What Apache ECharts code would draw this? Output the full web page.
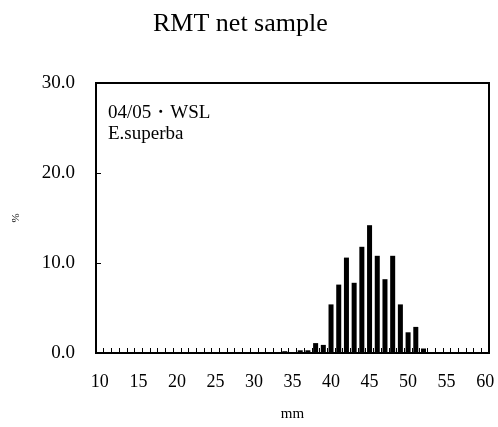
<!DOCTYPE html>
<html>
<head>
<meta charset="utf-8">
<script src="https://cdn.jsdelivr.net/npm/echarts@6/dist/echarts.min.js"></script>
<style>
  html, body { margin: 0; padding: 0; background: #fff; }
  #chart { width: 498px; height: 427px; }
</style>
</head>
<body>
<div id="chart"></div>
<script>
// length classes, mm
const lengths = []
for (let mm = 10; mm <= 60; mm++) lengths.push(String(mm))

// percent per length class (10..60 mm)
const percent = [
  0, 0, 0, 0, 0, 0, 0, 0, 0, 0,      // 10-19
  0, 0, 0, 0, 0, 0, 0, 0, 0, 0,      // 20-29
  0, 0, 0, 0, 0.2, 0, 0.3, 0.3, 1.1, 0.9, // 30-39
  5.4, 7.6, 10.6, 7.8, 11.8, 14.2, 10.8, 8.2, 10.8, 5.4, // 40-49
  2.3, 2.9, 0.5, 0, 0, 0, 0, 0, 0, 0, // 50-59
  0                                   // 60
]

const yTicks = [0, 10, 20, 30]

const serif = '"Liberation Serif", "DejaVu Serif", serif'

const chart = echarts.init(document.getElementById('chart'))

chart.setOption({
  animation: false,
  title: {
    text: 'RMT net sample',
    left: 148,
    top: 6,
    textStyle: {fontFamily: serif, fontSize: 26, fontWeight: 'normal', color: '#000'}
  },
  grid: {left: 96, right: 9, top: 83, bottom: 72, show: true, borderColor: '#000', borderWidth: 2},
  graphic: [
    {type: 'text', x: 108, y: 113, style: {text: '04/05・WSL', font: '19px ' + serif, fill: '#000', verticalAlign: 'middle'}},
    {type: 'text', x: 108, y: 134, style: {text: 'E.superba', font: '19px ' + serif, fill: '#000', verticalAlign: 'middle'}}
  ],
  xAxis: {
    type: 'category',
    data: lengths,
    name: 'mm',
    nameLocation: 'middle',
    nameGap: 54,
    nameTextStyle: {fontFamily: serif, fontSize: 15, color: '#000'},
    axisLine: {lineStyle: {color: '#000', width: 2}},
    axisTick: {show: true, inside: true, length: 5, interval: 0, lineStyle: {color: '#000'}},
    axisLabel: {interval: 4, margin: 20, fontFamily: serif, fontSize: 18, color: '#000'}
  },
  yAxis: {
    type: 'value',
    min: yTicks[0],
    max: yTicks[yTicks.length - 1],
    interval: 10,
    name: '%',
    nameLocation: 'middle',
    nameGap: 74,
    nameRotate: 90,
    nameTextStyle: {fontFamily: serif, fontSize: 11, color: '#000'},
    axisLine: {show: true, lineStyle: {color: '#000', width: 2}},
    axisTick: {show: true, inside: true, length: 5, lineStyle: {color: '#000'}},
    axisLabel: {margin: 21, fontFamily: serif, fontSize: 19, color: '#000', formatter: v => v.toFixed(1)},
    splitLine: {show: false}
  },
  series: [{
    type: 'bar',
    data: percent,
    barCategoryGap: '35%',
    itemStyle: {color: '#000'}
  }]
})
</script>
</body>
</html>
